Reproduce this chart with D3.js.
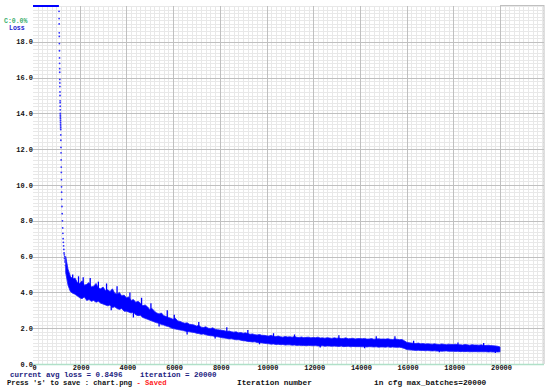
<!DOCTYPE html>
<html><head><meta charset="utf-8">
<script src="https://cdn.jsdelivr.net/npm/d3@7/dist/d3.min.js"></script>
<style>html,body{margin:0;padding:0;background:#fff;}svg{display:block;}</style>
</head><body>
<svg id="c" width="550" height="388"></svg>
<script>
// ---- data ----
const xTicks = [0, 2000, 4000, 6000, 8000, 10000, 12000, 14000, 16000, 18000, 20000];
const xTickLabels = ["0", "2000", "4000", "6000", "8000", "10000", "12000", "14000", "16000", "18000", "20000"];
const yTicks = [0, 2, 4, 6, 8, 10, 12, 14, 16, 18];
const yTickLabels = ["0.0", "2.0", "4.0", "6.0", "8.0", "10.0", "12.0", "14.0", "16.0", "18.0"];

// iterations whose loss was above the chart maximum (drawn clipped at the top)
const clippedIter = [0, 1110];

// steep descent, individual points
const steepIter = [1115,1118,1121,1124,1127,1130,1133,1136,1139,1142,1145,1148,1150,1152,1155,1157,1160,1162,1164,1166,1168,1170,1172,1174,1176,1178,1180,1182,1184,1187,1190,1194,1198,1202,1206,1210,1214,1218,1222,1226,1230,1240,1250,1260,1270,1280,1290,1300,1310,1320,1330,1340,1350,1360,1370,1380,1390];
const steepLoss = [19.7,19.3,19.0,18.5,18.3,17.9,17.5,17.1,16.8,16.5,16.3,15.9,15.7,15.5,15.2,15.0,14.7,14.6,14.4,14.2,14.0,13.9,13.8,13.7,13.6,13.5,13.4,13.3,13.2,13.1,12.8,12.5,12.1,11.8,11.4,11.0,10.7,10.3,9.9,9.6,9.2,8.8,8.4,8.0,7.6,7.3,7.0,6.8,6.6,6.4,6.2,6.1,5.9,6.0,5.7,5.8,5.5];

// noisy band: sampled every 100 iterations from 1400 to 20000 (upper / lower envelope of loss)
const bandStart = 1400, bandStep = 100;
const bandHigh = [
 6.0,5.3,4.9,4.75,4.8,4.55,
 4.5,4.65,4.4,4.45,4.55,4.3,4.35,4.5,4.25,4.2,
 4.3,4.1,4.15,4.05,4.2,3.95,3.9,4.0,3.8,3.85,
 3.7,3.75,3.55,3.6,3.45,3.5,3.4,3.25,3.3,3.2,
 3.05,3.1,2.95,2.85,2.8,2.85,2.7,2.65,2.6,2.55,
 2.5,2.55,2.4,2.38,2.32,2.28,2.3,2.22,2.2,2.18,
 2.12,2.15,2.06,2.04,2.08,2.0,1.98,2.02,1.94,1.92,
 1.9,1.88,1.86,1.82,1.84,1.8,1.78,1.8,1.74,1.76,
 1.72,1.74,1.7,1.66,1.68,1.64,1.62,1.65,1.6,1.6,
 1.58,1.56,1.6,1.54,1.53,1.56,1.52,1.5,1.54,1.51,
 1.52,1.5,1.54,1.49,1.48,1.51,1.47,1.49,1.5,1.46,
 1.48,1.47,1.5,1.45,1.46,1.44,1.47,1.45,1.43,1.46,
 1.44,1.45,1.42,1.43,1.46,1.41,1.42,1.44,1.4,1.42,
 1.42,1.41,1.43,1.39,1.4,1.42,1.38,1.4,1.41,1.39,
 1.4,1.39,1.41,1.38,1.37,1.4,1.38,1.36,1.37,1.3,
 1.22,1.19,1.17,1.16,1.14,1.17,1.13,1.14,1.12,1.13,
 1.12,1.11,1.13,1.1,1.09,1.12,1.1,1.08,1.11,1.09,
 1.09,1.1,1.07,1.08,1.06,1.09,1.07,1.05,1.08,1.06,
 1.06,1.05,1.07,1.04,1.03,1.05,1.03,1.02,1.01,0.99,
 0.95];
const bandLow = [
 5.1,4.4,4.05,3.95,3.9,3.8,
 3.7,3.65,3.75,3.55,3.6,3.5,3.55,3.45,3.5,3.4,
 3.35,3.3,3.25,3.3,3.15,3.2,3.1,3.05,3.1,2.95,
 2.95,2.9,2.85,2.9,2.75,2.7,2.72,2.6,2.55,2.5,
 2.45,2.4,2.35,2.3,2.28,2.2,2.18,2.12,2.1,2.02,
 1.98,1.95,1.93,1.9,1.88,1.84,1.82,1.8,1.78,1.76,
 1.72,1.7,1.66,1.68,1.63,1.6,1.58,1.57,1.54,1.52,
 1.5,1.46,1.45,1.43,1.4,1.41,1.38,1.35,1.36,1.33,
 1.3,1.29,1.26,1.25,1.23,1.24,1.2,1.19,1.18,1.16,
 1.14,1.13,1.11,1.12,1.09,1.1,1.08,1.09,1.06,1.07,
 1.07,1.05,1.06,1.04,1.05,1.03,1.04,1.02,1.04,1.03,
 1.02,1.03,1.01,1.0,1.02,0.99,1.01,1.0,0.99,1.0,
 0.99,0.98,1.0,0.97,0.98,0.99,0.96,0.98,0.97,0.97,
 0.97,0.96,0.97,0.95,0.97,0.96,0.95,0.96,0.94,0.95,
 0.95,0.94,0.96,0.93,0.95,0.94,0.93,0.94,0.91,0.87,
 0.81,0.79,0.78,0.77,0.76,0.77,0.75,0.76,0.74,0.75,
 0.74,0.73,0.74,0.72,0.73,0.71,0.72,0.73,0.71,0.71,
 0.71,0.7,0.71,0.69,0.7,0.69,0.7,0.68,0.69,0.69,
 0.69,0.68,0.69,0.68,0.69,0.67,0.68,0.67,0.68,0.67,
 0.68];

// isolated spikes sticking out of the band
const spikeIter = [1700,1950,2150,2450,2800,3150,3350,3600,4150,4300,4650,5050,5400,5750,6050,6600,7100,7800,8300,9200,9700,10300,11200,12300,13100,14200,14700,15500,16300,17400,18200,19300,19800];
const spikeLoss = [5.0,4.9,4.85,4.8,4.6,4.5,3.0,4.35,4.0,2.6,3.7,3.4,2.1,3.0,2.75,1.65,2.35,1.42,2.05,1.9,1.1,1.72,1.65,0.92,1.6,0.88,1.55,1.55,1.3,0.65,1.2,1.18,0.62];

const avgLoss = "0.8496";
const iteration = "20000";
const maxBatches = "20000";

// ---- drawing ----
const svg = d3.select("#c");
const x = d3.scaleLinear().domain([0, 20000]).range([33, 500]);
const y = d3.scaleLinear().domain([0, 20]).range([364, 6]);
const xGridMax = 21885;
const font = "'Liberation Mono', 'DejaVu Sans Mono', monospace";

const g = svg.append("g");
// minor grid
g.selectAll("line.vmin").data(d3.range(200, xGridMax, 200)).join("line")
  .attr("x1", d => Math.round(x(d)) + 0.5).attr("x2", d => Math.round(x(d)) + 0.5)
  .attr("y1", y(20)).attr("y2", y(0)).attr("stroke", "#e8e8e8").attr("stroke-width", 1);
g.selectAll("line.hmin").data(d3.range(0.2, 20.01, 0.2)).join("line")
  .attr("y1", d => Math.round(y(d)) + 0.5).attr("y2", d => Math.round(y(d)) + 0.5)
  .attr("x1", x(0)).attr("x2", x(xGridMax)).attr("stroke", "#e8e8e8").attr("stroke-width", 1);
// major grid
g.selectAll("line.vmaj").data(xTicks.slice(1)).join("line")
  .attr("x1", d => Math.round(x(d)) + 0.5).attr("x2", d => Math.round(x(d)) + 0.5)
  .attr("y1", y(20)).attr("y2", y(0)).attr("stroke", "#c0c0c0").attr("stroke-width", 1);
g.selectAll("line.hmaj").data(yTicks.slice(1)).join("line")
  .attr("y1", d => Math.round(y(d)) + 0.5).attr("y2", d => Math.round(y(d)) + 0.5)
  .attr("x1", x(0)).attr("x2", x(xGridMax)).attr("stroke", "#c0c0c0").attr("stroke-width", 1);
// right border & top-right line
g.append("line").attr("x1", x(xGridMax)).attr("x2", x(xGridMax)).attr("y1", y(20) - 1).attr("y2", y(0))
  .attr("stroke", "#c0c0c0");
g.append("line").attr("x1", x(20000)).attr("x2", x(xGridMax)).attr("y1", y(20) - 0.5).attr("y2", y(20) - 0.5)
  .attr("stroke", "#c0c0c0").attr("stroke-width", 1.2);
// baseline
g.append("line").attr("x1", x(0)).attr("x2", x(xGridMax)).attr("y1", y(0) + 0.5).attr("y2", y(0) + 0.5)
  .attr("stroke", "#b0e0c8").attr("stroke-width", 1.6);

// tick labels
svg.selectAll("text.yl").data(yTicks).join("text")
  .attr("x", 33).attr("y", d => y(d) + 2.5).attr("text-anchor", "end")
  .attr("font-family", font).attr("font-weight", "bold").attr("font-size", 7).attr("fill", "#111")
  .text((d, i) => yTickLabels[i]);
svg.selectAll("text.xl").data(xTicks).join("text")
  .attr("x", d => x(d) + 1.5).attr("y", 370).attr("text-anchor", "middle")
  .attr("font-family", font).attr("font-weight", "bold").attr("font-size", 7).attr("fill", "#111")
  .text((d, i) => xTickLabels[i]);

// clipped portion at the top
svg.append("line").attr("x1", x(clippedIter[0])).attr("x2", x(clippedIter[1]))
  .attr("y1", y(20)).attr("y2", y(20)).attr("stroke", "#0000ff").attr("stroke-width", 2);

// band
const bandData = bandHigh.map((h, i) => ({it: bandStart + i * bandStep, hi: h, lo: bandLow[i]}));
svg.append("path").datum(bandData)
  .attr("d", d3.area().x(d => x(d.it)).y0(d => y(d.lo)).y1(d => y(d.hi)))
  .attr("fill", "#0000ff").attr("stroke", "#1a1aff").attr("stroke-width", 0.8);

// spikes: short strokes from the band centre to the outlier value
svg.selectAll("line.sp").data(spikeIter).join("line")
  .attr("x1", d => x(d)).attr("x2", d => x(d))
  .attr("y1", d => {
    const b = bandData[Math.round((d - bandStart) / bandStep)];
    return y((b.hi + b.lo) / 2);
  })
  .attr("y2", (d, i) => y(spikeLoss[i]))
  .attr("stroke", "#0000ff").attr("stroke-width", 1.3);

// steep points
svg.selectAll("circle.s").data(steepIter).join("circle")
  .attr("cx", d => x(d)).attr("cy", (d, i) => y(steepLoss[i])).attr("r", 0.9)
  .attr("fill", "#3030ff");

// legend text
svg.append("text").attr("x", 4).attr("y", 23).attr("font-family", font).attr("font-weight", "bold")
  .attr("font-size", 6.5).attr("fill", "#3cae6e").text("C:0.0%");
svg.append("text").attr("x", 9).attr("y", 30).attr("font-family", font).attr("font-weight", "bold")
  .attr("font-size", 6.5).attr("fill", "#1a1ad0").text("Loss");

// bottom texts
const bt = (tx, ty, col, fs) => svg.append("text").attr("x", tx).attr("y", ty)
  .attr("font-family", font).attr("font-weight", "bold").attr("font-size", fs || 7.5).attr("fill", col)
  .attr("xml:space", "preserve").style("white-space", "pre");
bt(10, 377, "#1c1c80").text("current avg loss = " + avgLoss);
bt(140, 377, "#1c1c80").text("iteration = " + iteration);
const press = bt(7, 385, "#111", 7.2);
press.append("tspan").text("Press 's' to save : chart.png ");
press.append("tspan").attr("fill", "#ff2020").text("- Saved");
bt(237, 385, "#111", 7.8).text("Iteration number");
bt(374, 385, "#111", 7.8).text("in cfg max_batches=" + maxBatches);
</script>
</body></html>
